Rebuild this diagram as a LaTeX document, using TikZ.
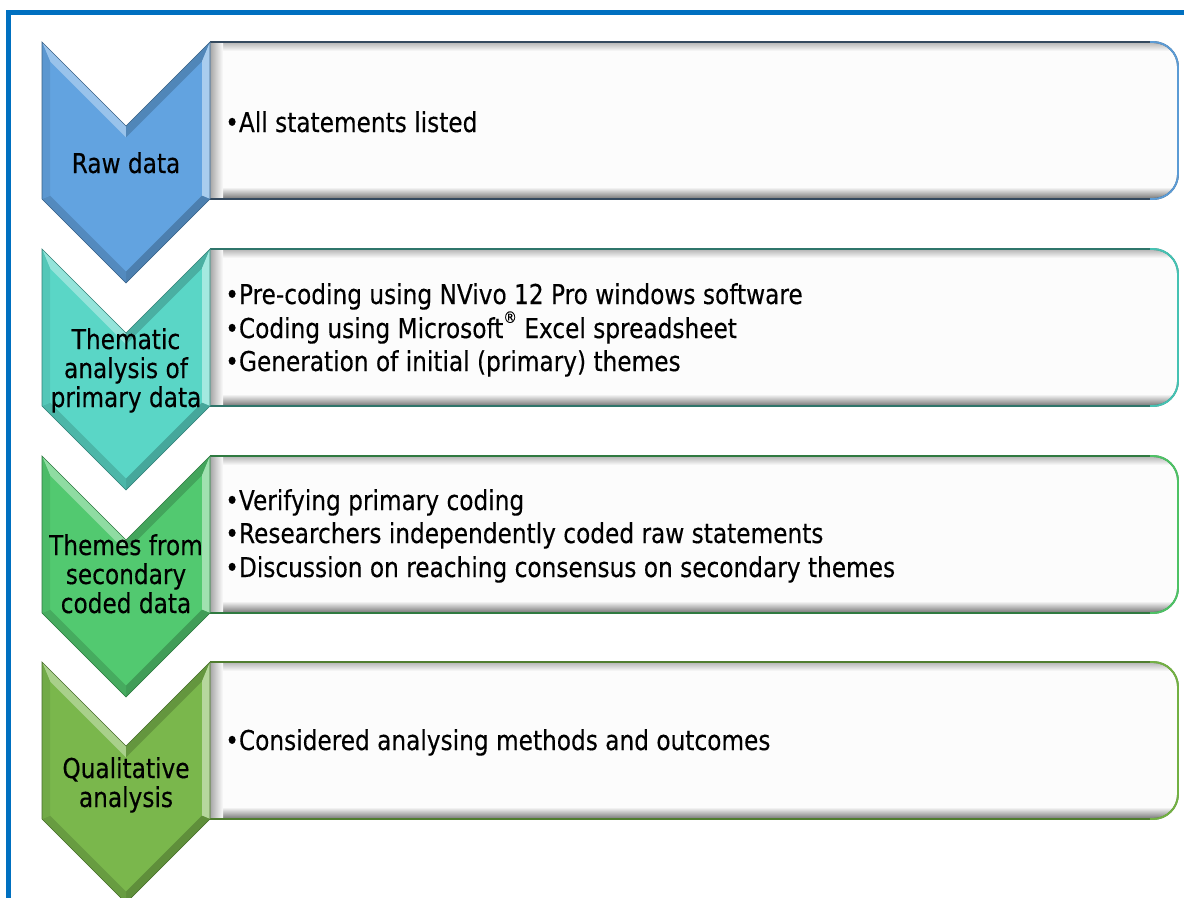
\documentclass[tikz,border=0pt]{standalone}
\usepackage{fontspec}
\setmainfont{DejaVu Sans}[FakeStretch=0.85,FakeBold=0.3]
\definecolor{framec}{HTML}{0070C0}
\definecolor{cA}{HTML}{62A3E0}
\definecolor{cB}{HTML}{5AD6C6}
\definecolor{cC}{HTML}{52C970}
\definecolor{cD}{HTML}{7AB74C}
\definecolor{dA}{HTML}{34495E}
\definecolor{lA}{HTML}{5B9BD5}
\definecolor{dB}{HTML}{2F756B}
\definecolor{lB}{HTML}{45C2B3}
\definecolor{dC}{HTML}{2F7A40}
\definecolor{lC}{HTML}{4DC265}
\definecolor{dD}{HTML}{4F7D2F}
\definecolor{lD}{HTML}{72B043}
\definecolor{boxfill}{HTML}{FCFCFC}
% chevron: #1 top y, #2 colour
\newcommand{\chevshape}[2]{%
  \fill[#2] (42,#1) -- (126,#1+84) -- (210,#1) -- (210,#1+157) -- (126,#1+241) -- (42,#1+157) -- cycle;
  \fill[#2!65!white] (42,#1) -- (126,#1+84) -- (126,#1+95.3) -- (50,#1+19.3) -- cycle;
  \fill[#2!82!black] (126,#1+84) -- (210,#1) -- (202,#1+19.3) -- (126,#1+95.3) -- cycle;
  \fill[#2!55!white] (210,#1) -- (210,#1+157) -- (202,#1+153.7) -- (202,#1+19.3) -- cycle;
  \fill[#2!78!black] (210,#1+157) -- (126,#1+241) -- (126,#1+229.7) -- (202,#1+153.7) -- cycle;
  \fill[#2!85!black] (126,#1+241) -- (42,#1+157) -- (50,#1+153.7) -- (126,#1+229.7) -- cycle;
  \fill[#2!93!black] (42,#1+157) -- (42,#1) -- (50,#1+19.3) -- (50,#1+153.7) -- cycle;
  \draw[#2!60!black, line width=0.5pt] (42,#1) -- (126,#1+84) -- (210,#1) -- (210,#1+157) -- (126,#1+241) -- (42,#1+157) -- cycle;
}
% box: #1 top y, #2 dark border, #3 light border
\newcommand{\boxshape}[3]{%
  \fill[boxfill] (210,#1) -- (1153,#1) arc[start angle=90,end angle=0,radius=18.75pt] -- (1178,#1+132) arc[start angle=0,end angle=-90,radius=18.75pt] -- (210,#1+157) -- cycle;
  \begin{scope}
    \clip (210,#1) -- (1153,#1) arc[start angle=90,end angle=0,radius=18.75pt] -- (1178,#1+132) arc[start angle=0,end angle=-90,radius=18.75pt] -- (210,#1+157) -- cycle;
    \shade[top color=black!30, bottom color=boxfill] (210,#1) rectangle (1184,#1+9);
    \shade[top color=boxfill, bottom color=black!55] (210,#1+145) rectangle (1184,#1+157);
    \shade[left color=black!35, right color=boxfill] (210,#1) rectangle (223,#1+157);
  \end{scope}
  \draw[#2, line width=1.3pt] (210,#1) -- (1153,#1) arc[start angle=90,end angle=0,radius=18.75pt] -- (1178,#1+132) arc[start angle=0,end angle=-90,radius=18.75pt] -- (210,#1+157);
  \draw[#3, line width=1.4pt] (1150,#1) -- (1153,#1) arc[start angle=90,end angle=0,radius=18.75pt] -- (1178,#1+132) arc[start angle=0,end angle=-90,radius=18.75pt] -- (1150,#1+157);
}
\newcommand{\regmark}{\raisebox{0.55em}{\fontsize{12pt}{12pt}\selectfont ®}}
\begin{document}
\begin{tikzpicture}[x=0.75pt,y=-0.75pt,
  lbl/.style={inner sep=0pt, anchor=base, font=\fontsize{20.5pt}{24pt}\selectfont},
  item/.style={inner sep=0pt, anchor=base west, font=\fontsize{20.5pt}{24pt}\selectfont}]
\useasboundingbox (0,0) rectangle (1184,897);
\fill[white] (0,0) rectangle (1184,897);
\draw[framec, line width=3.75pt] (8.5,900) -- (8.5,12.5) -- (1190,12.5);

\boxshape{42}{dA}{lA}
\boxshape{249}{dB}{lB}
\boxshape{456}{dC}{lC}
\boxshape{662}{dD}{lD}

\chevshape{42}{cA}
\chevshape{249}{cB}
\chevshape{456}{cC}
\chevshape{662}{cD}

% chevron labels
\node[lbl] (l1) at (126,173) {Raw data};
\node[lbl] (l2a) at (126,349) {Thematic};
\node[lbl] (l2b) at (126,378) {analysis of};
\node[lbl] (l2c) at (126,407) {primary data};
\node[lbl] (l3a) at (126,555) {Themes from};
\node[lbl] (l3b) at (126,584) {secondary};
\node[lbl] (l3c) at (126,613) {coded data};
\node[lbl] (l4a) at (126,778) {Qualitative};
\node[lbl] (l4b) at (126,807) {analysis};

% box items
\node[item] (t1) at (225,132) {•All statements listed};
\node[item] (t2a) at (225,304) {•Pre-coding using NVivo 12 Pro windows software};
\node[item] (t2b) at (225,338) {•Coding using Microsoft\regmark{} Excel spreadsheet};
\node[item] (t2c) at (225,371) {•Generation of initial (primary) themes};
\node[item] (t3a) at (225,510) {•Verifying primary coding};
\node[item] (t3b) at (225,543) {•Researchers independently coded raw statements};
\node[item] (t3c) at (225,577) {•Discussion on reaching consensus on secondary themes};
\node[item] (t4) at (225,750) {•Considered analysing methods and outcomes};
\end{tikzpicture}
\end{document}
